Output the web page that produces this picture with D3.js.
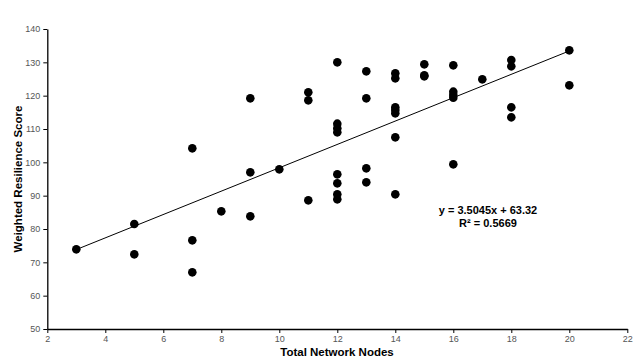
<!DOCTYPE html>
<html><head><meta charset="utf-8">
<script src="https://cdn.jsdelivr.net/npm/d3@7/dist/d3.min.js"></script>
<style>body{margin:0;background:#fff}svg{display:block}</style>
</head><body>
<script>
const nodes = [3,5,5,7,7,7,8,9,9,9,10,11,11,11,12,12,12,12,12,12,12,12,13,13,13,13,14,14,14,14,14,14,14,15,15,15,16,16,16,16,16,17,18,18,18,18,20,20];
const scores = [73.9,81.5,72.4,104.2,76.6,67.0,85.3,119.2,97.0,83.8,97.9,121.0,118.6,88.6,130.0,111.6,110.2,109.0,96.4,93.7,90.4,88.9,127.3,119.2,98.2,94.0,126.7,125.2,116.5,115.7,114.7,107.5,90.4,129.4,126.1,125.8,129.1,121.2,120.2,119.4,99.4,124.9,130.7,128.8,116.5,113.5,133.6,123.1];
const slope = 3.5045, intercept = 63.32;
const eqText = "y = 3.5045x + 63.32";
const r2Text = "R\u00b2 = 0.5669";
const xTicks = [2,4,6,8,10,12,14,16,18,20,22];
const yTicks = [50,60,70,80,90,100,110,120,130,140];

const W=639,H=364;
const svg=d3.select("body").append("svg").attr("width",W).attr("height",H);
const x=d3.scaleLinear().domain([2,22]).range([47.3,627.3]);
const y=d3.scaleLinear().domain([50,140]).range([329,29]);
const font="Liberation Sans, Arial, sans-serif";

const gx=svg.append("g").attr("transform","translate(0,329)")
  .call(d3.axisBottom(x).tickValues(xTicks).tickSize(4).tickSizeOuter(0).tickPadding(3));
const gy=svg.append("g").attr("transform","translate(47.3,0)")
  .call(d3.axisLeft(y).tickValues(yTicks).tickSize(4).tickSizeOuter(0).tickPadding(3));
[gx,gy].forEach(g=>{
  g.select(".domain").attr("stroke","#000").attr("stroke-width",1.3);
  g.selectAll(".tick line").attr("stroke","#000").attr("stroke-width",1);
  g.selectAll(".tick text").attr("fill","#555").style("font-family",font).style("font-size","9px");
});

const xr=d3.extent(nodes);
svg.append("line")
  .attr("x1",x(xr[0])).attr("y1",y(slope*xr[0]+intercept))
  .attr("x2",x(xr[1])).attr("y2",y(slope*xr[1]+intercept))
  .attr("stroke","#000").attr("stroke-width",1);

svg.append("g").selectAll("circle").data(nodes.map((n,i)=>[n,scores[i]])).join("circle")
  .attr("cx",d=>x(d[0])).attr("cy",d=>y(d[1])).attr("r",4.3).attr("fill","#000");

svg.append("text").attr("x",337).attr("y",356).attr("text-anchor","middle")
  .style("font-family",font).style("font-size","11.5px").style("font-weight","bold").text("Total Network Nodes");
svg.append("text").attr("transform","translate(22,179) rotate(-90)").attr("text-anchor","middle")
  .style("font-family",font).style("font-size","11.5px").style("font-weight","bold").text("Weighted Resilience Score");

svg.append("text").attr("x",488).attr("y",214).attr("text-anchor","middle")
  .style("font-family",font).style("font-size","11px").style("font-weight","bold").text(eqText);
svg.append("text").attr("x",488).attr("y",227).attr("text-anchor","middle")
  .style("font-family",font).style("font-size","11px").style("font-weight","bold").text(r2Text);
</script>
</body></html>
